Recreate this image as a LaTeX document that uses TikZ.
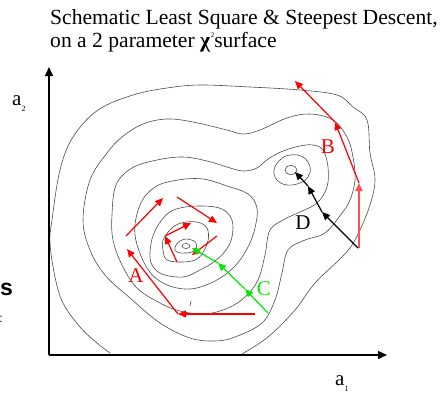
\documentclass[tikz,border=0pt]{standalone}
\usepackage{fontspec}
\setmainfont{Liberation Serif}
\newfontfamily\fragfont{Liberation Sans}
\usetikzlibrary{arrows.meta}
\definecolor{descred}{RGB}{255,0,0}
\definecolor{softred}{RGB}{255,80,80}
\definecolor{descgreen}{RGB}{0,235,0}
\tikzset{
	contour/.style={draw=black!70, line width=0.6pt},
	axis/.style={line width=1.4pt, -{Triangle[length=9pt,width=8pt]}},
	descent/.style={line width=1.2pt, -{Triangle[length=8pt,width=7pt]}},
	lbl/.style={font=\fontsize{21}{25}\selectfont, inner sep=0pt},
	titletext/.style={font=\fontsize{21.6}{25}\selectfont, inner sep=0pt, anchor=base west}
}
\newcommand{\subidx}[1]{\raisebox{-0.3em}{\fontsize{8}{8}\selectfont #1}}
\begin{document}
\begin{tikzpicture}[x=1pt,y=-1pt]
	\useasboundingbox (0,0) rectangle (440,392);
	\clip (0,0) rectangle (440,392);
	
	\node[titletext] (title1) at (50,24) {Schematic Least Square \& Steepest Descent,};
	\node[titletext] (title2) at (50,47) {on a 2 parameter \textbf{χ}\kern0.5pt\raisebox{0.45em}{\fontsize{7}{7}\selectfont 2}surface};
	
	\node[font=\fragfont\bfseries\fontsize{23}{23}\selectfont, anchor=base east, inner sep=0pt] (frag1) at (13,295) {s};
	\node[font=\fragfont\fontsize{12}{12}\selectfont, anchor=base east, inner sep=0pt] (frag2) at (3,322) {:};
	
	\draw[contour] plot[smooth, tension=0.6] coordinates {(110,353) (97,343) (80,327) (63,303) (55,277) (50,243) (52,220) (60,170) (73,137) (98,110) (133,95) (167,88) (200,85) (250,87) (300,90) (337,95) (353,107) (367,120) (370,153) (375,180) (369,208) (355,240) (342,257) (315,283) (295,310) (268,337) (242,354)};
	\draw[contour] plot[smooth cycle, tension=0.6] coordinates {(83,220) (90,180) (107,153) (122,137) (143,124) (167,119) (193,122) (227,130) (243,134) (260,130) (287,118) (310,114) (333,120) (347,137) (353,157) (355,180) (350,200) (342,213) (325,233) (305,240) (288,250) (282,273) (275,300) (262,323) (235,337) (215,341) (190,338) (160,323) (130,298) (105,275) (90,250)};
	\draw[contour] plot[smooth cycle, tension=0.6] coordinates {(112,215) (116,185) (132,168) (157,160) (183,157) (207,161) (227,167) (243,171) (257,168) (268,159) (283,151) (300,146) (313,145) (323,150) (328,167) (327,187) (317,203) (300,212) (285,219) (270,230) (265,255) (258,280) (245,297) (228,308) (205,314) (180,311) (160,303) (137,288) (122,265) (113,240)};
	\draw[contour] plot[smooth cycle, tension=0.6] coordinates {(135,235) (140,205) (155,187) (178,180) (203,179) (227,186) (248,194) (257,208) (255,228) (248,247) (235,266) (215,281) (190,289) (165,284) (147,268)};
	\draw[contour] plot[smooth cycle, tension=0.6] coordinates {(150,252) (154,233) (166,215) (180,208) (203,206) (222,209) (232,220) (232,237) (226,250) (215,261) (200,270) (183,277) (162,274) (152,265)};
	\draw[contour] plot[smooth cycle, tension=0.6] coordinates {(163,240) (171,229) (181,223) (197,222) (207,228) (208,241) (202,254) (195,260) (182,262) (167,260) (163,250)};
	\draw[contour] plot[smooth cycle, tension=0.7] coordinates {(175,247) (180,241) (188,239) (196,243) (195,250) (187,253) (177,252)};
	\draw[contour] (186,246) ellipse (4 and 2.5);
	\draw[contour] plot[smooth cycle, tension=0.7] coordinates {(274,170) (280,160) (290,155) (303,157) (310,167) (308,177) (300,183) (287,185) (277,180)};
	\draw[contour] (291,170) ellipse (6 and 4.5);
	\draw[contour] (191,301)--(190,306);
	
	\coordinate (orig) at (49,355);
	\coordinate (ytip) at (49,67);
	\coordinate (xtip) at (387,355);
	\draw[axis] (orig)--(ytip);
	\draw[axis] (orig)--(xtip);
	\node[lbl, anchor=base west] (a2) at (12,105) {a\subidx{2}};
	\node[lbl, anchor=base west] (a1) at (335,385) {a\subidx{1}};
	
	\coordinate (ra1) at (255,314);
	\coordinate (ra2) at (178,314);
	\coordinate (ra3) at (127,249);
	\coordinate (ra4) at (126,236);
	\coordinate (ra5) at (163,198);
	\coordinate (ra6) at (177,197);
	\coordinate (ra7) at (217,223);
	\coordinate (ra8) at (217,236);
	\coordinate (ra9) at (192,255);
	\coordinate (ra10) at (177,262);
	\coordinate (ra11) at (165,236);
	\coordinate (ra12) at (191,223);
	\draw[descent, descred] (ra1)--(ra2);
	\draw[descent, descred] (ra2)--(ra3);
	\draw[descent, descred] (ra4)--(ra5);
	\draw[descent, descred] (ra6)--(ra7);
	\draw[descent, descred] (ra8)--(ra9);
	\draw[descent, descred] (ra10)--(ra11);
	\draw[descent, descred] (ra11)--(ra12);
	
	\coordinate (rb1) at (359,248);
	\coordinate (rb2) at (359,183);
	\coordinate (rb3) at (335,122);
	\coordinate (rb4) at (295,81);
	\draw[descent, softred, line width=1.8pt] (rb1)--(rb2);
	\draw[descent, descred] (rb2)--(rb3);
	\draw[descent, descred] (rb3)--(rb4);
	
	\coordinate (g1) at (268,313);
	\coordinate (g2) at (245,289);
	\coordinate (g3) at (218,263);
	\coordinate (g4) at (192,248);
	\draw[descent, descgreen] (g1)--(g2);
	\draw[descent, descgreen] (g2)--(g3);
	\draw[descent, descgreen] (g3)--(g4);
	
	\coordinate (d1) at (358,248);
	\coordinate (d2) at (322,212);
	\coordinate (d3) at (308,186);
	\coordinate (d4) at (295,172);
	\draw[descent] (d1)--(d2);
	\draw[descent] (d2)--(d3);
	\draw[descent] (d3)--(d4);
	
	\node[lbl, text=descred] (labA) at (136,276) {A};
	\node[lbl, text=descred] (labB) at (328,147) {B};
	\node[lbl, text=descgreen] (labC) at (264,289) {C};
	\node[lbl] (labD) at (303,223) {D};
\end{tikzpicture}
\end{document}
